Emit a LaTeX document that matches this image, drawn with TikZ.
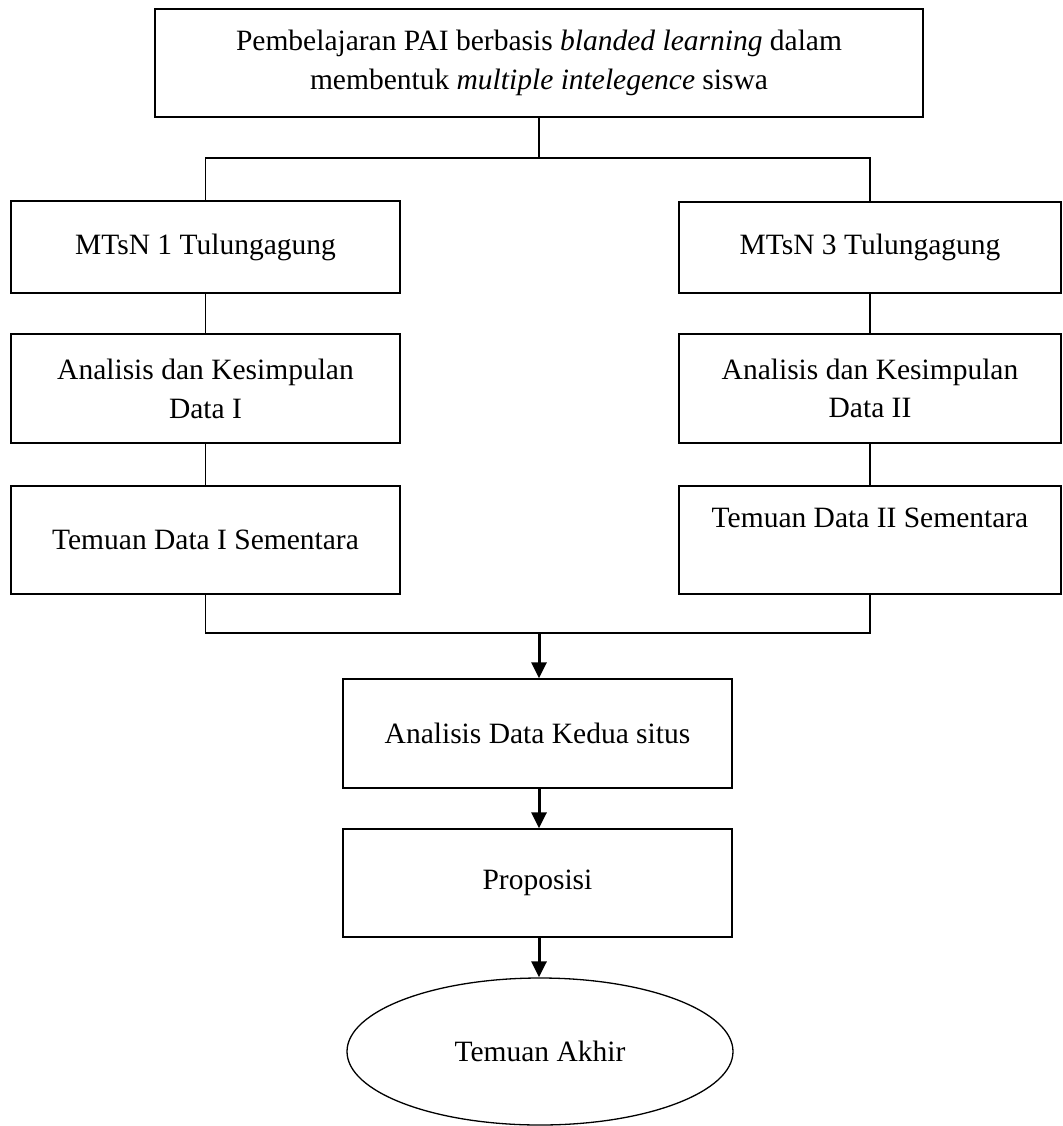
\documentclass[tikz,border=0pt]{standalone}
\usepackage{fontspec}
\setmainfont{Liberation Serif}
\usetikzlibrary{arrows.meta,shapes.geometric}
\begin{document}
\begin{tikzpicture}[x=1pt,y=-1pt,
  box/.style={draw,line width=1.3pt,rectangle,inner sep=0pt,align=center,
    font=\fontsize{29.5}{39}\selectfont},
  txt/.style={inner sep=0pt,align=center,font=\fontsize{29.5}{39}\selectfont},
  link/.style={line width=1.3pt},
  arr/.style={line width=3pt,-{Triangle[length=16pt,width=15pt]}}]
\useasboundingbox (0,0) rectangle (1062,1126);
% top
\node[box,minimum width=768pt,minimum height=108pt] (top) at (539,63)
  {Pembelajaran PAI berbasis \textit{blanded learning} dalam\\ membentuk \textit{multiple intelegence} siswa};
% left column
\node[box,minimum width=389pt,minimum height=92pt] (m1) at (205.5,247) {MTsN 1 Tulungagung};
\node[box,minimum width=389pt,minimum height=109pt] (a1) at (205.5,388.5) {Analisis dan Kesimpulan\\ Data I};
\node[box,minimum width=389pt,minimum height=108pt] (t1) at (205.5,540) {Temuan Data I Sementara};
% right column
\node[box,minimum width=382pt,minimum height=91pt] (m3) at (870,247.5) {MTsN 3 Tulungagung};
\node[box,minimum width=382pt,minimum height=109pt] (a2) at (870,388.5) {Analisis dan Kesimpulan\\[-1pt] Data II};
\node[box,minimum width=382pt,minimum height=108pt] (t2) at (870,540) {};
\node[txt] (t2text) at (870,518) {Temuan Data II Sementara};
% bottom
\node[box,minimum width=389pt,minimum height=109pt] (ak) at (537.5,733.5) {Analisis Data Kedua situs};
\node[box,minimum width=389pt,minimum height=108pt] (pr) at (537.5,883) {Proposisi};
\node[box,draw,ellipse,minimum width=386pt,minimum height=147pt] (ta) at (540,1051.5) {Temuan Akhir};
% connectors
\coordinate (j1) at (539,158);
\coordinate (j2) at (539,633);
\draw[link] (top.south) -- (j1);
\draw[link] (m1.north) -- (m1.north |- j1) -- (m3.north |- j1) -- (m3.north);
\draw[link] (m1) -- (a1);
\draw[link] (a1) -- (t1);
\draw[link] (m3) -- (a2);
\draw[link] (a2) -- (t2);
\draw[link] (t1.south) -- (t1.south |- j2) -- (t2.south |- j2) -- (t2.south);
\draw[arr] (j2) -- (j2 |- ak.north);
\draw[arr] (ak.south -| j2) -- (pr.north -| j2);
\draw[arr] (pr.south -| j2) -- (ta.north -| j2);
\end{tikzpicture}
\end{document}
